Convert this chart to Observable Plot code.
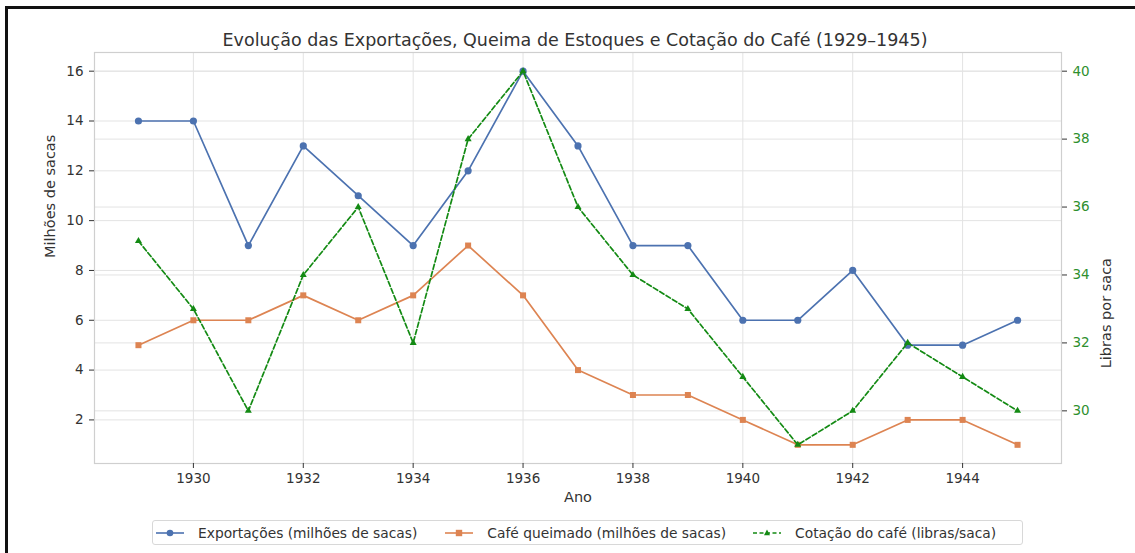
<!DOCTYPE html>
<html>
<head>
<meta charset="utf-8">
<script src="https://cdn.jsdelivr.net/npm/d3@7"></script>
<script src="https://cdn.jsdelivr.net/npm/@observablehq/plot@0.6"></script>
<style>
  html, body { margin: 0; padding: 0; background: #fff; }
  #wrap { position: relative; width: 1135px; height: 553px; overflow: hidden; font-family: "DejaVu Sans", sans-serif; }
  #chart { position: absolute; left: 0; top: 0; }
  #border { position: absolute; left: 5px; top: 6px; width: 1140px; height: 560px; border-top: 3px solid #111; border-left: 3px solid #111; pointer-events: none; }
  #title { position: absolute; top: 29px; left: 0; width: 1150px; text-align: center; font-size: 17.5px; line-height: 22px; color: #333; }
  #legend { position: absolute; left: 152px; top: 520px; width: 871px; height: 25px; border: 1px solid #d8d8d8; border-radius: 3px; box-sizing: border-box; display: flex; align-items: center; font-size: 13.8px; color: #333; }
  .item { display: flex; align-items: center; white-space: nowrap; }
  .item svg { margin-right: 14px; }
</style>
</head>
<body>
<div id="wrap">
  <div id="chart"></div>
  <div id="title">Evolução das Exportações, Queima de Estoques e Cotação do Café (1929–1945)</div>
  <div id="legend"></div>
  <div id="border"></div>
</div>
<script>
// ---- Data ----
const years = [1929,1930,1931,1932,1933,1934,1935,1936,1937,1938,1939,1940,1941,1942,1943,1944,1945];
const exportacoes = [14,14,9,13,11,9,12,16,13,9,9,6,6,8,5,5,6];
const cafeQueimado = [5,6,6,7,6,7,9,7,4,3,3,2,1,1,2,2,1];
const cotacao = [35,33,30,34,36,32,38,40,36,34,33,31,29,30,32,31,30];
const xTicks = [1930,1932,1934,1936,1938,1940,1942,1944];
const leftTicks = [2,4,6,8,10,12,14,16];
const rightTicks = [30,32,34,36,38,40];
const seriesNames = ["Exportações (milhões de sacas)", "Café queimado (milhões de sacas)", "Cotação do café (libras/saca)"];
const colors = ["#4c72b0", "#dd8452", "#138a13"];

// ---- Scales (matplotlib-like 5% margins) ----
const leftDomain = [0.25, 16.75];
const rightDomain = [28.45, 40.55];
const toLeft = p => leftDomain[0] + (p - rightDomain[0]) * (leftDomain[1] - leftDomain[0]) / (rightDomain[1] - rightDomain[0]);

const exp = years.map((y, i) => ({ano: y, v: exportacoes[i]}));
const que = years.map((y, i) => ({ano: y, v: cafeQueimado[i]}));
const cot = years.map((y, i) => ({ano: y, v: toLeft(cotacao[i]), raw: cotacao[i]}));

const gridColor = "#e3e3e3";
const chart = Plot.plot({
  width: 1135,
  height: 553,
  marginTop: 52,
  marginBottom: 90,
  marginLeft: 94,
  marginRight: 74,
  style: {fontFamily: "DejaVu Sans, sans-serif", fontSize: "13.5px", color: "#333", background: "transparent"},
  x: {domain: [1928.2, 1945.8]},
  y: {domain: leftDomain},
  marks: [
    Plot.gridX(xTicks, {stroke: gridColor, strokeOpacity: 1}),
    Plot.gridY(leftTicks, {stroke: gridColor, strokeOpacity: 1}),
    Plot.gridY(rightTicks.map(toLeft), {stroke: gridColor, strokeOpacity: 1}),
    Plot.frame({stroke: "#cfcfcf", strokeWidth: 1.2}),
    Plot.line(exp, {x: "ano", y: "v", stroke: colors[0], strokeWidth: 1.7}),
    Plot.dot(exp, {x: "ano", y: "v", fill: colors[0], r: 3.6, symbol: "circle"}),
    Plot.line(que, {x: "ano", y: "v", stroke: colors[1], strokeWidth: 1.7}),
    Plot.dot(que, {x: "ano", y: "v", fill: colors[1], r: 3.4, symbol: "square"}),
    Plot.line(cot, {x: "ano", y: "v", stroke: colors[2], strokeWidth: 1.7, strokeDasharray: "5,2.5"}),
    Plot.dot(cot, {x: "ano", y: "v", fill: colors[2], r: 2.6, symbol: "triangle"}),
    Plot.axisX(xTicks, {tickSize: 5, tickPadding: 5, tickFormat: d => String(d), label: null, stroke: "#333", fill: "#333"}),
    Plot.axisY(leftTicks, {anchor: "left", tickSize: 5, tickPadding: 6, label: null, stroke: "#333", fill: "#333"}),
    Plot.axisY(rightTicks.map(toLeft), {anchor: "right", tickSize: 5, tickPadding: 6, label: null, stroke: "#333", fill: "#2e8f2e",
      tickFormat: (d, i) => String(rightTicks[i])}),
    Plot.text(["Milhões de sacas"], {frameAnchor: "left", dx: -44, rotate: -90, fontSize: 14.5, fill: "#333"}),
    Plot.text(["Libras por saca"], {frameAnchor: "right", dx: 45, rotate: -90, fontSize: 14.5, fill: "#333"}),
    Plot.text(["Ano"], {frameAnchor: "bottom", dy: 38, fontSize: 14.5, fill: "#333"})
  ]
});
document.getElementById("chart").appendChild(chart);

// ---- Legend ----
const legend = document.getElementById("legend");
const symbolSvg = [
  `<circle cx="14" cy="6" r="3.3" fill="${colors[0]}"/>`,
  `<rect x="10.8" y="2.8" width="6.4" height="6.4" fill="${colors[1]}"/>`,
  `<path d="M14,2.6 L17,8.2 L11,8.2 Z" fill="${colors[2]}"/>`
];
const dashes = ["", "", "stroke-dasharray=\"4,2.5\""];
const gaps = [3, 28, 27];
seriesNames.forEach((name, i) => {
  const el = document.createElement("div");
  el.className = "item";
  el.style.marginLeft = gaps[i] + "px";
  el.innerHTML = `<svg width="28" height="12"><line x1="0" x2="28" y1="6" y2="6" stroke="${colors[i]}" stroke-width="1.6" ${dashes[i]}/>${symbolSvg[i]}</svg><span>${name}</span>`;
  legend.appendChild(el);
});
</script>
</body>
</html>
